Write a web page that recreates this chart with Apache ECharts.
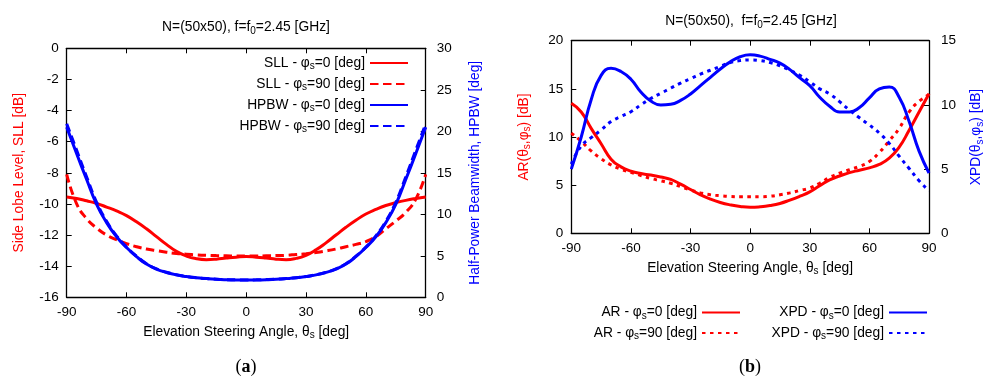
<!DOCTYPE html>
<html>
<head>
<meta charset="utf-8">
<script src="https://cdn.jsdelivr.net/npm/echarts@6/dist/echarts.min.js"></script>
<style>html,body{margin:0;padding:0;background:#fff}#c{width:989px;height:377px}</style>
</head>
<body>
<div id="c"></div>
<script>
// ---- data ----
const theta = [-90,-85,-80,-75,-70,-65,-60,-55,-50,-45,-40,-35,-30,-25,-20,-15,-10,-5,0,5,10,15,20,25,30,35,40,45,50,55,60,65,70,75,80,85,90];
const xTicks = [-90,-60,-30,0,30,60,90];

const sllPhi0  = [-9.55,-9.65,-9.8,-9.97,-10.2,-10.45,-10.75,-11.15,-11.6,-12.1,-12.6,-13.05,-13.35,-13.52,-13.58,-13.55,-13.48,-13.42,-13.38,-13.42,-13.48,-13.55,-13.58,-13.5,-13.3,-12.95,-12.5,-12.0,-11.5,-11.05,-10.65,-10.35,-10.1,-9.92,-9.77,-9.65,-9.55];
const sllPhi90 = [-8.1,-10.0,-10.95,-11.55,-12.0,-12.3,-12.55,-12.75,-12.9,-13.0,-13.1,-13.18,-13.23,-13.27,-13.3,-13.32,-13.33,-13.35,-13.35,-13.35,-13.33,-13.32,-13.3,-13.25,-13.2,-13.12,-13.02,-12.9,-12.75,-12.6,-12.42,-12.1,-11.6,-11.1,-10.55,-9.7,-8.1];
const hpbwPhi0 = [20.5,17.3,14.2,11.2,9.0,7.3,6.0,4.9,4.0,3.4,3.0,2.7,2.5,2.35,2.25,2.17,2.12,2.09,2.08,2.09,2.12,2.17,2.25,2.35,2.5,2.7,3.0,3.4,4.0,4.9,6.0,7.3,9.0,11.2,14.2,17.3,20.5];
const hpbwPhi90 = [20.9,17.7,14.5,11.45,9.15,7.4,6.05,4.95,4.05,3.42,3.02,2.72,2.51,2.36,2.26,2.18,2.13,2.1,2.09,2.1,2.13,2.18,2.26,2.36,2.51,2.72,3.02,3.42,4.05,4.95,6.05,7.4,9.15,11.45,14.5,17.7,20.9];

const arPhi0  = [13.5,12.6,10.9,9.3,7.7,6.9,6.45,6.2,6.05,5.85,5.6,5.1,4.55,4.0,3.55,3.2,2.95,2.78,2.7,2.75,2.88,3.1,3.45,3.85,4.3,4.95,5.55,5.95,6.3,6.55,6.8,7.15,7.8,8.95,10.7,12.6,14.5];
const arPhi90 = [10.4,9.55,8.55,7.75,7.1,6.65,6.33,6.0,5.7,5.45,5.2,4.85,4.5,4.2,4.0,3.9,3.83,3.8,3.8,3.8,3.85,4.0,4.2,4.45,4.7,5.2,5.8,6.25,6.6,6.95,7.45,8.4,9.6,10.9,12.6,13.7,14.4];
const xpdPhi0  = [5.0,7.5,10.4,12.3,12.85,12.6,12.0,11.0,10.3,10.0,10.05,10.35,10.85,11.5,12.15,12.8,13.35,13.75,13.9,13.8,13.55,13.25,12.75,12.1,11.5,10.6,9.9,9.45,9.45,9.8,10.55,11.25,11.4,10.6,8.7,6.4,4.7];
const xpdPhi90 = [5.4,6.8,7.45,8.05,8.7,9.1,9.47,10.0,10.5,10.9,11.3,11.7,12.05,12.4,12.7,13.0,13.3,13.45,13.5,13.45,13.3,13.05,12.7,12.3,11.8,11.25,10.85,10.25,9.6,9.0,8.43,7.8,7.0,6.0,5.05,4.1,3.3];

const namesA = ['SLL - φ_s=0 [deg]','SLL - φ_s=90 [deg]','HPBW - φ_s=0 [deg]','HPBW - φ_s=90 [deg]'];
const namesB1 = ['AR - φ_s=0 [deg]','AR - φ_s=90 [deg]'];
const namesB2 = ['XPD - φ_s=0 [deg]','XPD - φ_s=90 [deg]'];
const titleA = 'N=(50x50), f=f_0=2.45 [GHz]';
const titleB = 'N=(50x50),  f=f_0=2.45 [GHz]';
const xName = 'Elevation Steering Angle, θ_s [deg]';
const yNameA1 = 'Side Lobe Level, SLL [dB]';
const yNameA2 = 'Half-Power Beamwidth, HPBW [deg]';
const yNameB1 = 'AR(θ_s,φ_s) [dB]';
const yNameB2 = 'XPD(θ_s,φ_s) [dB]';

// ---- helpers ----
const FONT = '"Liberation Sans", Arial, sans-serif';
const SERIF = '"Liberation Serif", serif';
const RED = '#ff0000', BLUE = '#0000ff';
const TXT = 13.8, TICK = 13.5;
function rt(str) {
  const out = '{n|' + str.replace(/_(\w)/g, '}{s|$1}{n|') + '}';
  return out.replace(/\{n\|\}/g, '');
}
function rich(color, size) {
  return {
    n: {fontSize: size, fontFamily: FONT, fontWeight: 'normal', color: color, lineHeight: 17, verticalAlign: 'middle'},
    s: {fontSize: Math.round(size * 0.7), fontFamily: FONT, fontWeight: 'normal', color: color, lineHeight: 9, verticalAlign: 'bottom'}
  };
}
function pairs(arr) { return theta.map((t, i) => [t, arr[i]]); }

function xAx(gridIndex, pos, labels, name) {
  return {
    type: 'value', gridIndex: gridIndex, position: pos, min: -90, max: 90, interval: 30,
    axisLine: {show: true, onZero: false, lineStyle: {color: '#000', width: 1.3}},
    axisTick: {show: true, inside: true, length: 5, lineStyle: {color: '#000', width: 1}},
    axisLabel: {show: labels, color: '#000', fontSize: TICK, fontFamily: FONT, margin: 8},
    splitLine: {show: false},
    name: name ? rt(name) : '', nameLocation: 'middle', nameGap: 26,
    nameTextStyle: {rich: rich('#000', TXT)}
  };
}
function yAx(gridIndex, pos, min, max, interval, name, color, gap, margin) {
  return {
    type: 'value', gridIndex: gridIndex, position: pos, min: min, max: max, interval: interval,
    axisLine: {show: true, onZero: false, lineStyle: {color: '#000', width: 1.3}},
    axisTick: {show: true, inside: true, length: 5, lineStyle: {color: '#000', width: 1}},
    axisLabel: {color: '#000', fontSize: TICK, fontFamily: FONT, margin: margin},
    splitLine: {show: false},
    name: rt(name), nameLocation: 'middle', nameGap: gap,
    nameTextStyle: {rich: rich(color, TXT)}
  };
}
function ser(name, xi, yi, arr, color, dash) {
  return {
    name: name, type: 'line', xAxisIndex: xi, yAxisIndex: yi, data: pairs(arr),
    symbol: 'none', showSymbol: false, smooth: true, animation: false,
    lineStyle: {color: color, width: 3, type: dash}, itemStyle: {color: color}
  };
}
function leg(names, right, top, gap) {
  return {
    data: names, orient: 'vertical', right: right, top: top, align: 'right', padding: 0,
    itemWidth: 38, itemHeight: 14, itemGap: gap, selectedMode: false,
    formatter: rt, textStyle: {rich: rich('#000', TXT)},
    itemStyle: {opacity: 0}
  };
}
function caption(letter, x) {
  return {text: '{p|(}{b|' + letter + '}{p|)}', left: x, top: 358, textAlign: 'center', textVerticalAlign: 'top', padding: 0,
    textStyle: {rich: {p: {fontFamily: SERIF, fontSize: 18, fontWeight: 'normal', color: '#000'}, b: {fontFamily: SERIF, fontSize: 18, fontWeight: 'bold', color: '#000'}}}};
}

const chart = echarts.init(document.getElementById('c'), null, {renderer: 'canvas'});
chart.setOption({
  animation: false,
  backgroundColor: '#fff',
  title: [
    {text: rt(titleA), left: 246, top: 19, textAlign: 'center', textVerticalAlign: 'top', padding: 0, textStyle: {fontWeight: 'normal', rich: rich('#000', TXT)}},
    {text: rt(titleB), left: 751, top: 13, textAlign: 'center', textVerticalAlign: 'top', padding: 0, textStyle: {fontWeight: 'normal', rich: rich('#000', TXT)}},
    caption('a', 246),
    caption('b', 750)
  ],
  grid: [
    {left: 66.7, right: 563.3, top: 48.3, bottom: 79.7, outerBoundsMode: 'none'},
    {left: 571.3, right: 60, top: 40.7, bottom: 143.7, outerBoundsMode: 'none'}
  ],
  xAxis: [
    xAx(0, 'bottom', true, xName),
    xAx(0, 'top', false, ''),
    xAx(1, 'bottom', true, xName),
    xAx(1, 'top', false, '')
  ],
  yAxis: [
    yAx(0, 'left', -16, 0, 2, yNameA1, RED, 39, 8),
    yAx(0, 'right', 0, 30, 5, yNameA2, BLUE, 41, 11),
    yAx(1, 'left', 0, 20, 5, yNameB1, RED, 39, 8),
    yAx(1, 'right', 0, 15, 5, yNameB2, BLUE, 39, 12)
  ],
  legend: [
    leg(namesA, 580, 56, 5.5),
    leg(namesB1, 248, 305.5, 5),
    leg(namesB2, 61, 305.5, 5)
  ],
  series: [
    ser(namesA[0], 0, 0, sllPhi0, RED, 'solid'),
    ser(namesA[1], 0, 0, sllPhi90, RED, [8.5, 4.5]),
    ser(namesA[2], 0, 1, hpbwPhi0, BLUE, 'solid'),
    ser(namesA[3], 0, 1, hpbwPhi90, BLUE, [8.5, 4.5]),
    ser(namesB1[0], 2, 2, arPhi0, RED, 'solid'),
    ser(namesB1[1], 2, 2, arPhi90, RED, [3.5, 4.5]),
    ser(namesB2[0], 2, 3, xpdPhi0, BLUE, 'solid'),
    ser(namesB2[1], 2, 3, xpdPhi90, BLUE, [3.5, 4.5])
  ]
});
</script>
</body>
</html>
